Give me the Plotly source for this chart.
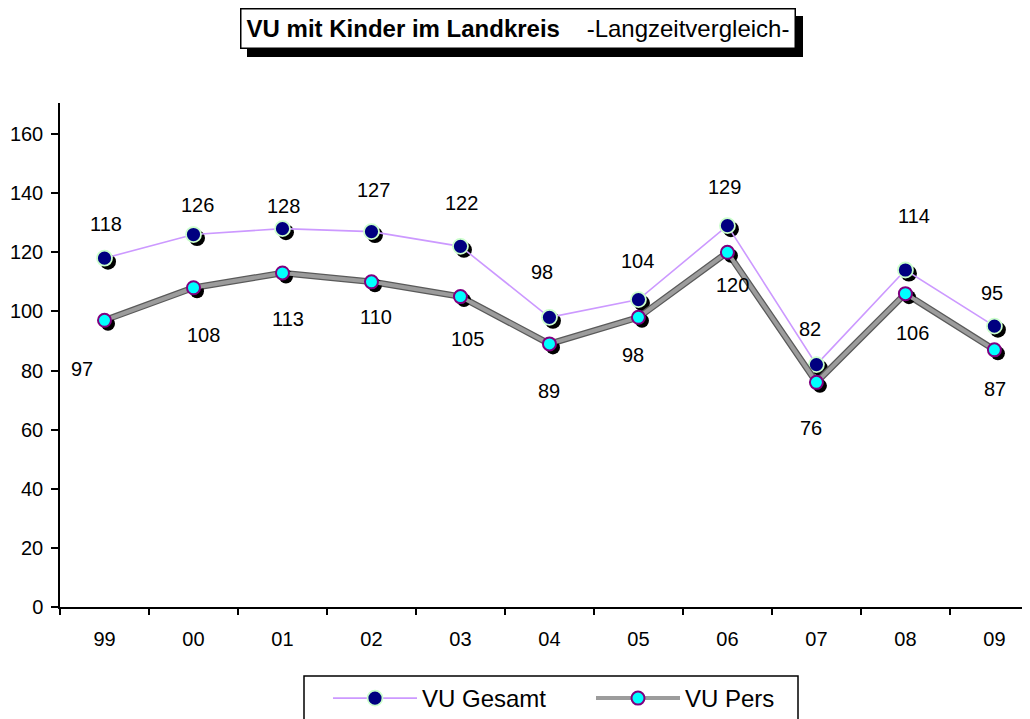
import plotly.graph_objects as go

# ---------------- data ----------------
years = ["99", "00", "01", "02", "03", "04", "05", "06", "07", "08", "09"]
vu_gesamt = [118, 126, 128, 127, 122, 98, 104, 129, 82, 114, 95]
vu_pers = [97, 108, 113, 110, 105, 89, 98, 120, 76, 106, 87]
y_ticks = [0, 20, 40, 60, 80, 100, 120, 140, 160]

# ---------------- styling / placement ----------------
FONT = "Liberation Sans, Arial, sans-serif"
# the page body adds an 8px offset; figure coordinates below are screen - 8
FIG_W, FIG_H = 1022, 711
X_RANGE = [-0.5, 10.4]
Y_RANGE = [0, 170.5]
PLOT_L, PLOT_T = 52, 95
PLOT_W, PLOT_H = 970, 504
PX_X = PLOT_W / (X_RANGE[1] - X_RANGE[0])
PX_Y = PLOT_H / (Y_RANGE[1] - Y_RANGE[0])
SHADOW_PX = 3.5


def px_to_paper_x(px):
    return (px - PLOT_L) / PLOT_W


def px_to_paper_y(py):
    return (PLOT_T + PLOT_H - py) / PLOT_H


# label offsets in pixels (dx, dy) ; dy positive = upwards
gesamt_label_offsets = [(1, 34), (4, 30), (1, 23), (2, 42), (1, 43), (-7, 45),
                        (-1, 39), (-3, 39), (-6, 36), (9, 54), (-2, 33)]
pers_label_offsets = [(-23, -49), (10, -47), (6, -46), (5, -35), (7, -42), (0, -47),
                      (-5, -38), (5, -33), (-5, -46), (7, -39), (1, -39)]

xi = list(range(len(years)))
sdx = SHADOW_PX / PX_X
sdy = SHADOW_PX / PX_Y

fig = go.Figure()

# Gesamt: shadow + series
fig.add_trace(go.Scatter(
    x=[v + sdx for v in xi], y=[v - sdy for v in vu_gesamt],
    mode="markers", marker=dict(size=16, color="black"),
    showlegend=False, hoverinfo="skip"))
fig.add_trace(go.Scatter(
    x=xi, y=vu_gesamt, name="VU Gesamt", mode="lines+markers",
    line=dict(color="#cc99ff", width=1.6),
    marker=dict(size=15, color="#000080", line=dict(color="#ccffcc", width=1.8))))
# Pers: line underlay, shadow, series
fig.add_trace(go.Scatter(
    x=xi, y=vu_pers, mode="lines",
    line=dict(color="#5a5a5a", width=6.5),
    showlegend=False, hoverinfo="skip"))
fig.add_trace(go.Scatter(
    x=[v + sdx for v in xi], y=[v - sdy for v in vu_pers],
    mode="markers", marker=dict(size=14, color="black"),
    showlegend=False, hoverinfo="skip"))
fig.add_trace(go.Scatter(
    x=xi, y=vu_pers, name="VU Pers", mode="lines+markers",
    line=dict(color="#9c9c9c", width=4),
    marker=dict(size=13, color="#00ffff", line=dict(color="#800080", width=2))))

annotations = []
for i, v in enumerate(vu_gesamt):
    dx, dy = gesamt_label_offsets[i]
    annotations.append(dict(x=i, y=v, xref="x", yref="y", text=str(v), showarrow=False,
                            xshift=dx, yshift=dy, font=dict(family=FONT, size=20, color="black")))
for i, v in enumerate(vu_pers):
    dx, dy = pers_label_offsets[i]
    annotations.append(dict(x=i, y=v, xref="x", yref="y", text=str(v), showarrow=False,
                            xshift=dx, yshift=dy, font=dict(family=FONT, size=20, color="black")))

# title box with shadow
title_text = "<b>VU mit Kinder im Landkreis</b>" + "\u00a0" * 4 + "-Langzeitvergleich-"
title_x = px_to_paper_x(509.5)
title_y = px_to_paper_y(20)
annotations.append(dict(x=title_x, y=title_y, xref="paper", yref="paper", text="",
                        showarrow=False, width=549, height=34, bgcolor="black",
                        borderwidth=1.5, bordercolor="black", borderpad=2,
                        xshift=7, yshift=-8, xanchor="center", yanchor="middle"))
annotations.append(dict(x=title_x, y=title_y, xref="paper", yref="paper", text=title_text,
                        showarrow=False, width=549, height=34, bgcolor="white",
                        borderwidth=1.5, bordercolor="black", borderpad=2,
                        xanchor="center", yanchor="middle", align="center",
                        font=dict(family=FONT, size=24, color="black")))

# legend frame
shapes = [dict(type="rect", xref="paper", yref="paper",
               x0=px_to_paper_x(296), x1=px_to_paper_x(790),
               y0=px_to_paper_y(668), y1=px_to_paper_y(760),
               line=dict(color="black", width=1.5), fillcolor="rgba(0,0,0,0)",
               layer="above")]

fig.update_layout(
    width=FIG_W, height=FIG_H,
    margin=dict(l=PLOT_L, r=FIG_W - PLOT_L - PLOT_W, t=PLOT_T,
                b=FIG_H - PLOT_T - PLOT_H, autoexpand=False),
    paper_bgcolor="white", plot_bgcolor="white",
    font=dict(family=FONT, size=20, color="black"),
    annotations=annotations,
    shapes=shapes,
    showlegend=True,
    legend=dict(orientation="h", x=px_to_paper_x(320), y=px_to_paper_y(668),
                xanchor="left", yanchor="top", borderwidth=0,
                bgcolor="rgba(0,0,0,0)", font=dict(family=FONT, size=24, color="black"),
                itemwidth=84, entrywidth=164, entrywidthmode="pixels"),
    xaxis=dict(range=X_RANGE, tickmode="array", tickvals=xi, ticktext=years,
               ticks="", showline=True, linecolor="black", linewidth=1.5,
               showgrid=False, zeroline=False, ticklabelstandoff=13, automargin=False,
               tickfont=dict(family=FONT, size=20, color="black"),
               minor=dict(tickmode="array",
                          tickvals=[k - 0.5 for k in range(len(years) + 1)],
                          ticks="outside", ticklen=6, tickwidth=1.5, tickcolor="black",
                          showgrid=False)),
    yaxis=dict(range=Y_RANGE, tickmode="array", tickvals=y_ticks,
               ticks="outside", ticklen=7, tickwidth=1.5, tickcolor="black",
               showline=True, linecolor="black", linewidth=1.5,
               showgrid=False, zeroline=False, ticklabelstandoff=4, automargin=False,
               tickfont=dict(family=FONT, size=20, color="black")),
)

fig.write_html("out.html")
